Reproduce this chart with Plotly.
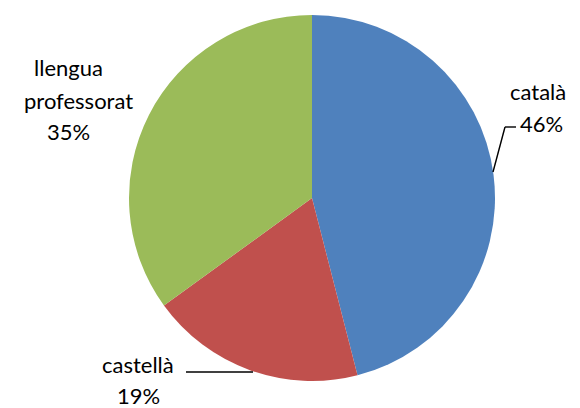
import plotly.graph_objects as go

labels = ["català", "castellà", "llengua professorat"]
label_lines = [["català", "46%"], ["castellà", "19%"], ["llengua", "professorat", "35%"]]
values = [46, 19, 35]
colors = ["#4F81BD", "#C0504D", "#9BBB59"]

W, H = 580, 408
cx, cy, r = 312, 198, 183

def px(x):
    return x / W

def py(y):
    return 1 - y / H

fig = go.Figure(go.Pie(
    labels=labels, values=values, sort=False, direction="clockwise", rotation=0,
    marker=dict(colors=colors, line=dict(width=0)),
    textinfo="none", hoverinfo="label+percent", showlegend=False,
    domain=dict(x=[px(cx - r), px(cx + r)], y=[py(cy + r), py(cy - r)]),
))

font = dict(family="Lato, Open Sans, sans-serif", size=22, color="#000000")
label_pos = [[(538, 92), (541, 123)], [(138, 364), (138, 395)], [(68, 68), (78, 100), (68, 131)]]
for lines_txt, poss in zip(label_lines, label_pos):
    for txt, (x, y) in zip(lines_txt, poss):
        fig.add_annotation(x=px(x), y=py(y), xref="paper", yref="paper", text=txt,
                           showarrow=False, font=font, align="center",
                           xanchor="center", yanchor="middle")

lines = [
    [(493, 172), (505, 127), (516, 127)],
    [(186, 372), (253, 372)],
]
for pts in lines:
    for (x0, y0), (x1, y1) in zip(pts[:-1], pts[1:]):
        fig.add_shape(type="line", xref="paper", yref="paper",
                      x0=px(x0), y0=py(y0), x1=px(x1), y1=py(y1),
                      line=dict(color="#000000", width=1.4))

fig.update_layout(width=W, height=H, margin=dict(l=0, r=0, t=0, b=0),
                  paper_bgcolor="white", plot_bgcolor="white")
fig.write_html("out.html", config={"displayModeBar": False},
               post_script="document.body.style.margin='0';document.body.style.padding='0';")
